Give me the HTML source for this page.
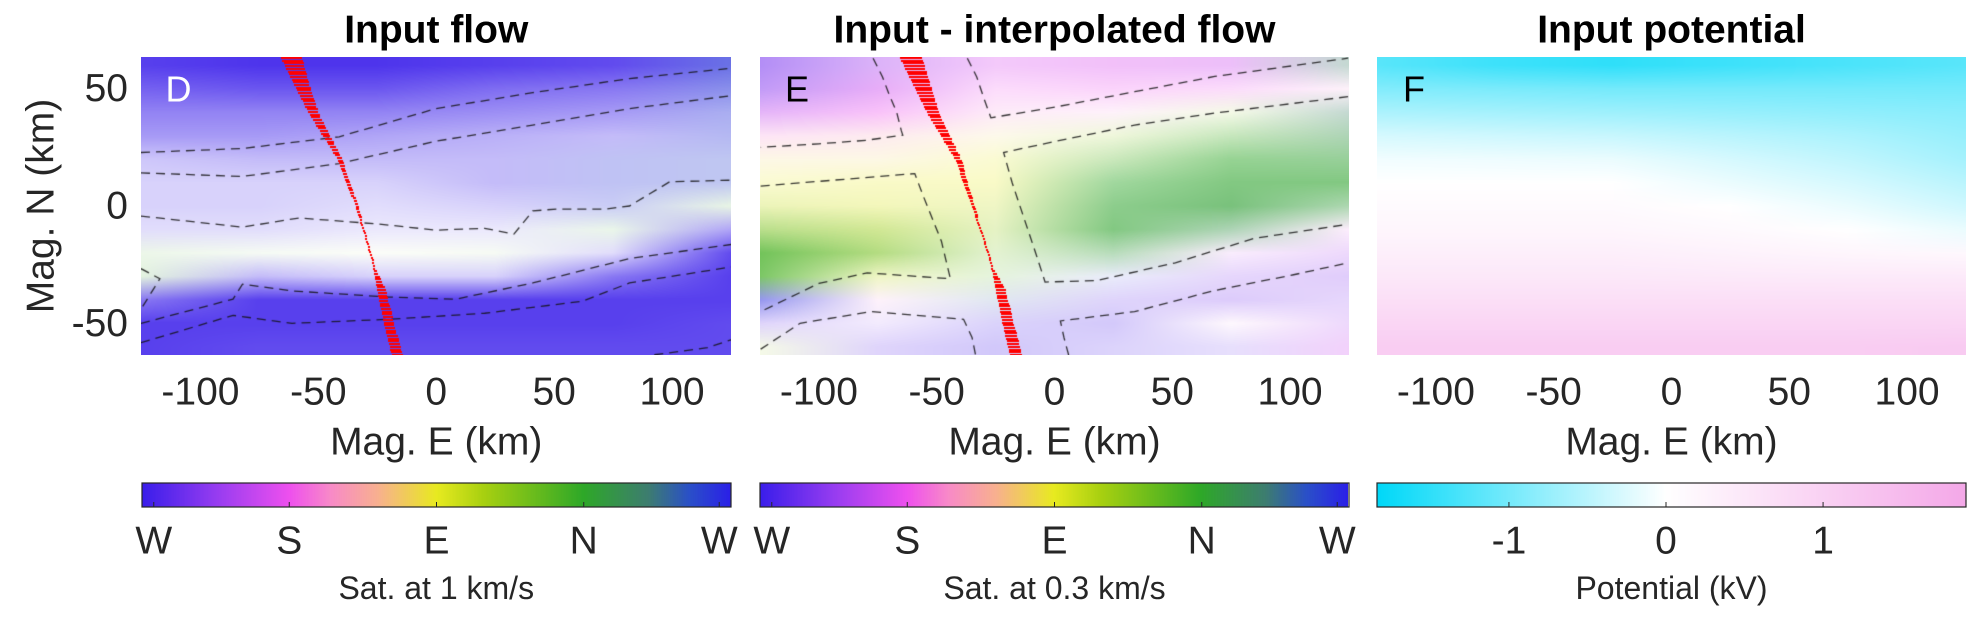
<!DOCTYPE html>
<html><head><meta charset="utf-8">
<style>
html,body{margin:0;padding:0;background:#fff;}
body{width:1980px;height:630px;position:relative;overflow:hidden;font-family:"Liberation Sans",Arial,sans-serif;}
canvas{position:absolute;}
svg{position:absolute;left:0;top:0;}
</style></head>
<body>
<canvas id="c1" style="left:141px;top:57px" width="590" height="298"></canvas>
<canvas id="c2" style="left:760px;top:57px" width="589" height="298"></canvas>
<canvas id="c3" style="left:1377px;top:57px" width="589" height="298"></canvas>
<canvas id="cb1" style="left:142px;top:483px" width="589" height="24"></canvas>
<canvas id="cb2" style="left:760px;top:483px" width="588" height="24"></canvas>
<canvas id="cb3" style="left:1377px;top:483px" width="589" height="24"></canvas>
<svg id="ov" width="1980" height="630" font-family="Liberation Sans, Arial, sans-serif"></svg>
<script>
// ---------- data ----------
const gridY = [60,50,40,30,20,10,0,-10,-20,-30,-40,-50,-60];
const gridX = [-125,-75,-25,25,75,125];
const satD = [
 [0.85,0.7,0.55,0.45,0.25,0.2,0.2,0.15,0.1,0.15,0.6,0.85,0.85],
 [0.9,0.75,0.55,0.45,0.3,0.2,0.2,0.15,0.05,0.3,0.85,0.85,0.8],
 [0.9,0.75,0.55,0.4,0.3,0.2,0.15,0.1,0.03,0.2,0.85,0.85,0.8],
 [0.85,0.65,0.5,0.35,0.3,0.3,0.2,0.1,0.05,0.2,0.85,0.85,0.8],
 [0.8,0.6,0.45,0.3,0.3,0.3,0.25,0.1,0.15,0.6,0.85,0.85,0.8],
 [0.7,0.55,0.4,0.35,0.3,0.3,0.12,0.4,0.8,0.85,0.85,0.8,0.8]];
const dirD = [
 [0,0,0,0,0,0,0,0,0.72,0.72,0,0,0],
 [0,0,0,0,0,0,0,0,0.72,0,0,0,0],
 [0,0,0,0,0,0,0,0,0.6,0,0,0,0],
 [0,0,0,0,0,0,0,0,0.7,0,0,0,0],
 [0,0,0,0,0.97,0.97,0.97,0.75,0,0,0,0,0],
 [0.97,0.97,0.97,0.97,0.95,0.95,0.72,0,0,0,0,0,0]];
const dirE = [
 [0.08,0.1,0.18,0.3,0.45,0.5,0.55,0.65,0.72,0.72,0.98,0.05,0.6],
 [0.15,0.2,0.25,0.35,0.45,0.5,0.52,0.6,0.65,0.55,0.3,0.1,0.05],
 [0.22,0.25,0.3,0.45,0.5,0.5,0.55,0.6,0.65,0.7,0.9,0.02,0.02],
 [0.22,0.25,0.3,0.6,0.7,0.75,0.76,0.76,0.78,0.95,0.05,0.03,0.03],
 [0.2,0.25,0.6,0.72,0.75,0.76,0.77,0.8,0.2,0.1,0.08,0.3,0.05],
 [0.85,0.3,0.85,0.8,0.77,0.76,0.78,0.25,0.15,0.1,0.1,0.15,0.2]];
const satE = [
 [0.55,0.5,0.4,0.2,0.15,0.2,0.3,0.5,0.75,0.7,0.5,0.2,0.1],
 [0.4,0.45,0.35,0.2,0.15,0.25,0.3,0.45,0.55,0.25,0.1,0.1,0.2],
 [0.3,0.2,0.15,0.12,0.2,0.25,0.25,0.25,0.2,0.15,0.15,0.2,0.25],
 [0.35,0.25,0.1,0.15,0.3,0.45,0.55,0.6,0.35,0.1,0.2,0.25,0.2],
 [0.35,0.2,0.1,0.3,0.5,0.6,0.65,0.4,0.1,0.2,0.25,0.05,0.15],
 [0.3,0.1,0.3,0.4,0.5,0.6,0.4,0.1,0.2,0.25,0.2,0.2,0.25]];
const potF = [
 [-1.2,-0.9,-0.6,-0.3,-0.1,0,0.1,0.2,0.35,0.5,0.7,0.9,1.1],
 [-1.4,-0.95,-0.65,-0.35,-0.12,0,0.1,0.2,0.35,0.5,0.7,0.9,1.1],
 [-1.5,-1.0,-0.7,-0.4,-0.15,0,0.1,0.2,0.35,0.5,0.7,0.9,1.1],
 [-1.4,-1.0,-0.75,-0.5,-0.3,-0.15,0,0.12,0.28,0.47,0.7,0.9,1.1],
 [-1.3,-1.0,-0.8,-0.6,-0.45,-0.3,-0.15,0,0.2,0.45,0.7,0.9,1.1],
 [-1.2,-1.0,-0.85,-0.75,-0.65,-0.5,-0.35,-0.15,0.15,0.45,0.7,0.9,1.15]];
const trackY = [63,50,40,20,0,-15,-25,-35,-50,-63];
const trackX1 = [-65.4,-59,-54,-41.5,-34,-29.5,-26.7,-25,-22,-18.8];
const mag1 = [8.9,6,4.2,2,1.3,0.6,0.3,3.8,4.3,4.7];
const trackX2 = [-65.3,-59,-54,-42,-35,-30,-27,-25,-22,-19];
const mag2 = [9.3,7,5,2.5,1.3,0.6,0.3,4.2,4.8,5.2];
const contD = [
 [[-125,22.8],[-82,24.5],[-41,29.5],[0,41.5],[41,48.3],[82,54.3],[125,58.7]],
 [[-125,14.1],[-82,12.6],[-41,18.1],[0,27.6],[41,34.5],[82,41.5],[125,47]],
 [[-125,-4.3],[-82,-9],[-58,-5.1],[-23,-7.8],[0,-10.3],[20.6,-9.5],[33,-12],[41,-2.1],[51,-1.3],[72,-1.3],[82,0],[99,10.3],[125,11]],
 [[-125,-50],[-86,-39.7],[-82,-33.3],[-61,-36.2],[-20,-38.8],[8.4,-39.7],[41,-32.8],[82,-22.4],[125,-16.4]],
 [[-125,-58.2],[-86,-46.6],[-61,-50],[-20,-48.3],[20.6,-45.7],[62,-40.6],[82,-32.8],[125,-26]],
 [[-125,-26.7],[-117,-31],[-125,-44]],
 [[92.5,-63.4],[115,-60.4],[125,-57]]];
const contE = [
 [[-77,63],[-73,55],[-70,47],[-67,40],[-65,32],[-64.4,30.2],[-80,28],[-100,26.5],[-124.7,25]],
 [[-37,63],[-33,55],[-30,46],[-27,37.6],[1,42.3],[34,48.7],[68,55.2],[124.6,63]],
 [[-124.7,8.5],[-59.3,13.8],[-56,5],[-52,-5],[-48,-15],[-44.2,-31],[-79.5,-28.5],[-100,-33],[-124.7,-45]],
 [[124.6,46.6],[68,39.6],[34,34.5],[1,27.7],[-21.6,22.8],[-18,10],[-13,-5],[-8,-20],[-4,-32.4],[17.8,-31.8],[51.3,-24.2],[84.7,-13.8],[124.6,-7.8]],
 [[-124.7,-61],[-108,-50],[-78,-45],[-38.6,-48.3],[-35,-56],[-33.5,-63.5]],
 [[6,-63.5],[4,-56],[2.5,-49],[34,-45],[68,-36],[101.5,-29.3],[124.6,-24.2]]];
const flowTicks = ['W','S','E','N','W'];
const flowTickFrac = [0.02,0.25,0.5,0.75,0.98];
const potTicks = [-1,0,1];
const xTicks = [-100,-50,0,50,100];
const yTicks = [50,0,-50];
// ---------- helpers ----------
const XMIN=-125, XMAX=125, YMIN=-63.5, YMAX=63.5, PMIN=-1.84, PMAX=1.91;
const flowStops=[[0,[58,30,234]],[0.125,[150,60,240]],[0.25,[238,80,238]],[0.32,[248,138,200]],[0.4,[248,176,144]],[0.5,[232,234,32]],[0.58,[168,208,16]],[0.75,[46,168,40]],[0.86,[61,125,112]],[0.93,[42,80,200]],[1,[42,32,232]]];
const potStops=[[0,[0,216,248]],[0.49,[255,255,255]],[1,[244,168,232]]];
function cmap(st,t){t=Math.max(0,Math.min(1,t));for(let i=1;i<st.length;i++){if(t<=st[i][0]){const a=st[i-1],b=st[i],f=(t-a[0])/(b[0]-a[0]);return a[1].map((v,k)=>v+(b[1][k]-v)*f);}}return st[st.length-1][1];}
function flowCol(d,s){const c=cmap(flowStops,d);return c.map(v=>255+(v-255)*s);}
function potCol(p){return cmap(potStops,(p-PMIN)/(PMAX-PMIN));}
function buildGrid(fn){return gridX.map((_,i)=>gridY.map((_,j)=>fn(i,j)));}
function sample(G,x,y){
 let fi=(x-gridX[0])/(gridX[1]-gridX[0]);fi=Math.max(0,Math.min(gridX.length-1.0001,fi));
 let fj=(gridY[0]-y)/(gridY[0]-gridY[1]);fj=Math.max(0,Math.min(gridY.length-1.0001,fj));
 const i=Math.floor(fi),j=Math.floor(fj),a=fi-i,b=fj-j;
 const c00=G[i][j],c10=G[i+1][j],c01=G[i][j+1],c11=G[i+1][j+1];
 return c00.map((v,k)=>v*(1-a)*(1-b)+c10[k]*a*(1-b)+c01[k]*(1-a)*b+c11[k]*a*b);}
function drawMap(id,G,cont,tx,mag){
 const cv=document.getElementById(id),ctx=cv.getContext('2d'),W=cv.width,H=cv.height;
 const img=ctx.createImageData(W,H);
 for(let py=0;py<H;py++){const y=YMAX-(py+0.5)/H*(YMAX-YMIN);
  for(let px=0;px<W;px++){const x=XMIN+(px+0.5)/W*(XMAX-XMIN);const c=sample(G,x,y);const o=(py*W+px)*4;
   img.data[o]=c[0];img.data[o+1]=c[1];img.data[o+2]=c[2];img.data[o+3]=255;}}
 ctx.putImageData(img,0,0);
 const sx=x=>(x-XMIN)/(XMAX-XMIN)*W, sy=y=>(YMAX-y)/(YMAX-YMIN)*H;
 if(cont){ctx.strokeStyle='rgba(20,20,20,0.85)';ctx.lineWidth=1.3;ctx.setLineDash([9,6]);
  cont.forEach(l=>{ctx.beginPath();l.forEach((p,k)=>{k?ctx.lineTo(sx(p[0]),sy(p[1])):ctx.moveTo(sx(p[0]),sy(p[1]));});ctx.stroke();});ctx.setLineDash([]);}
 if(tx){ctx.fillStyle='#ff0000';
  for(let py=0;py<H;py+=2.7){const y=YMAX-py/H*(YMAX-YMIN);
   let k=0;while(k<trackY.length-2&&y<trackY[k+1])k++;
   const f=(trackY[k]-y)/(trackY[k]-trackY[k+1]);
   const x=tx[k]+(tx[k+1]-tx[k])*f, m=mag[k]+(mag[k+1]-mag[k])*f;
   const w=Math.max(sx(x+m)-sx(x),1.5);
   ctx.fillRect(Math.round(sx(x)),Math.round(py),Math.round(w),2);}}
}
drawMap('c1',buildGrid((i,j)=>flowCol(dirD[i][j],satD[i][j])),contD,trackX1,mag1);
drawMap('c2',buildGrid((i,j)=>flowCol(dirE[i][j],satE[i][j])),contE,trackX2,mag2);
drawMap('c3',buildGrid((i,j)=>potCol(potF[i][j])),null,null,null);
function drawBar(id,fn){const cv=document.getElementById(id),ctx=cv.getContext('2d');
 for(let px=0;px<cv.width;px++){const c=fn(px/(cv.width-1));ctx.fillStyle='rgb('+c.map(Math.round).join(',')+')';ctx.fillRect(px,0,1,cv.height);}}
drawBar('cb1',t=>cmap(flowStops,t));
drawBar('cb2',t=>cmap(flowStops,t));
drawBar('cb3',t=>potCol(PMIN+t*(PMAX-PMIN)));
// ---------- SVG overlay ----------
const svg=document.getElementById('ov'),NS='http://www.w3.org/2000/svg';
function txt(x,y,s,size,opt){const e=document.createElementNS(NS,'text');e.setAttribute('x',x);e.setAttribute('y',y);e.setAttribute('font-size',size);
 e.setAttribute('text-anchor',(opt&&opt.anchor)||'middle');e.setAttribute('dominant-baseline','central');e.setAttribute('fill',(opt&&opt.fill)||'#262626');
 if(opt&&opt.bold)e.setAttribute('font-weight','bold');if(opt&&opt.rot)e.setAttribute('transform','rotate(-90 '+x+' '+y+')');e.textContent=s;svg.appendChild(e);return e;}
function line(x1,y1,x2,y2,c){const e=document.createElementNS(NS,'line');e.setAttribute('x1',x1);e.setAttribute('y1',y1);e.setAttribute('x2',x2);e.setAttribute('y2',y2);e.setAttribute('stroke',c||'#262626');e.setAttribute('stroke-width',1);svg.appendChild(e);return e;}
const panels=[{x0:141.5,x1:731,title:'Input flow',letter:'D',lc:'#fff',cb:'flow',cbl:'Sat. at 1 km/s'},
 {x0:760,x1:1349,title:'Input - interpolated flow',letter:'E',lc:'#000',cb:'flow',cbl:'Sat. at 0.3 km/s'},
 {x0:1377,x1:1966,title:'Input potential',letter:'F',lc:'#000',cb:'pot',cbl:'Potential (kV)'}];
const AY0=57,AY1=355;
panels.forEach((p,pi)=>{
 const sx=v=>p.x0+(v-XMIN)/(XMAX-XMIN)*(p.x1-p.x0);
 const cx=(p.x0+p.x1)/2;
 let t=txt(cx,30,p.title,39,{bold:true,fill:'#000'});
 
 
 t=txt(p.x0+37,89,p.letter,36,{fill:p.lc,anchor:'middle'});
 
 
 xTicks.forEach(v=>{const e=txt(sx(v),392,String(v),39);
  
  });
 t=txt(cx,442,'Mag. E (km)',39);
 
 
 const bx0=p.x0+(pi==0?0.5:0),bx1=p.x1;
 const r=document.createElementNS(NS,'rect');r.setAttribute('x',bx0);r.setAttribute('y',483);r.setAttribute('width',bx1-bx0);r.setAttribute('height',24);r.setAttribute('fill','none');r.setAttribute('stroke','#262626');r.setAttribute('stroke-width',1.2);svg.appendChild(r);
 
 
 if(p.cb=='flow'){flowTicks.forEach((s,k)=>{const x=bx0+flowTickFrac[k]*(bx1-bx0);
   const l=line(x,502,x,507);
   
   
   const e=txt(x,541,s,39);
   
   });}
 else{potTicks.forEach(v=>{const x=bx0+(v-PMIN)/(PMAX-PMIN)*(bx1-bx0);
   const l=line(x,502,x,507);
   
   
   const e=txt(x,541,String(v),39);
   
   });}
 t=txt(cx,588,p.cbl,32);
 
 
});
const syA=v=>AY0+(YMAX-v)/(YMAX-YMIN)*(AY1-AY0);
yTicks.forEach(v=>{const e=txt(128,syA(v),String(v),39,{anchor:'end'});
 
 });
const yt=txt(41,206,'Mag. N (km)',39,{rot:true});


</script>
</body></html>
